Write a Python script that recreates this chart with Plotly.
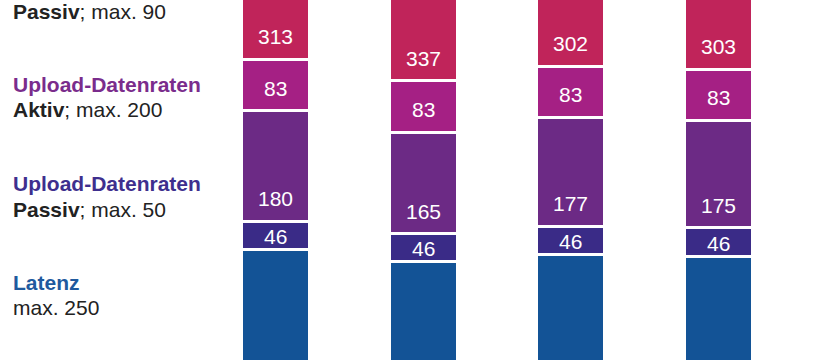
import plotly.graph_objects as go

categories = ["Netz A", "Netz B", "Netz C", "Netz D"]
latenz = [215, 195, 207, 204]
upload_passiv = [46, 46, 46, 46]
upload_aktiv = [180, 165, 177, 175]
download_passiv = [83, 83, 83, 83]
download_aktiv = [313, 337, 302, 303]

series = [
    ("Latenz", latenz, "#135396", False),
    ("Upload-Datenraten Passiv", upload_passiv, "#3A2B87", True),
    ("Upload-Datenraten Aktiv", upload_aktiv, "#6C2A85", True),
    ("Download-Datenraten Passiv", download_passiv, "#A52084", True),
    ("Download-Datenraten Aktiv", download_aktiv, "#C0245A", True),
]

fig = go.Figure()
annotations = []
base = [0] * len(categories)
for name, vals, color, labelled in series:
    fig.add_trace(go.Bar(
        x=categories, y=vals, name=name,
        marker=dict(color=color, line=dict(color="white", width=3)),
        hoverinfo="skip",
    ))
    if labelled:
        for i, (c, v) in enumerate(zip(categories, vals)):
            annotations.append(dict(
                x=c, y=base[i], xref="x", yref="y", text=str(v),
                showarrow=False, yanchor="middle", xanchor="center",
                yshift=13 if v < 60 else 22.5,
                font=dict(family="Liberation Sans, Arial, sans-serif", size=21, color="white"),
            ))
    base = [b + v for b, v in zip(base, vals)]

side_labels = [
    ("<b>Passiv</b>; max. 90", "#222222", 12),
    ("<b>Upload-Datenraten</b>", "#7A2C8C", 84),
    ("<b>Aktiv</b>; max. 200", "#222222", 109),
    ("<b>Upload-Datenraten</b>", "#3E2F8E", 183),
    ("<b>Passiv</b>; max. 50", "#222222", 209),
    ("<b>Latenz</b>", "#1F5A9E", 282),
    ("max. 250", "#222222", 307.5),
]
H = 360
L, R = 202, 28
W = 820 - L - R
for text, color, ypx in side_labels:
    annotations.append(dict(
        x=(11 - L) / W, y=1 - ypx / H, xref="paper", yref="paper",
        text=text, showarrow=False, xanchor="left", yanchor="middle",
        font=dict(family="Liberation Sans, Arial, sans-serif", size=21, color=color),
    ))

fig.update_layout(
    barmode="stack", bargap=0.538,
    width=820, height=360,
    margin=dict(l=L, r=R, t=0, b=0, pad=0, autoexpand=False),
    plot_bgcolor="white", paper_bgcolor="white",
    showlegend=False,
    xaxis=dict(visible=False, range=[-0.5, 3.5]),
    yaxis=dict(visible=False, range=[35.3, 620.7]),
    annotations=annotations,
)

fig.write_html(
    "out.html",
    config={"displayModeBar": False, "staticPlot": True},
    post_script="document.body.style.margin='0';document.body.style.overflow='hidden';",
)
